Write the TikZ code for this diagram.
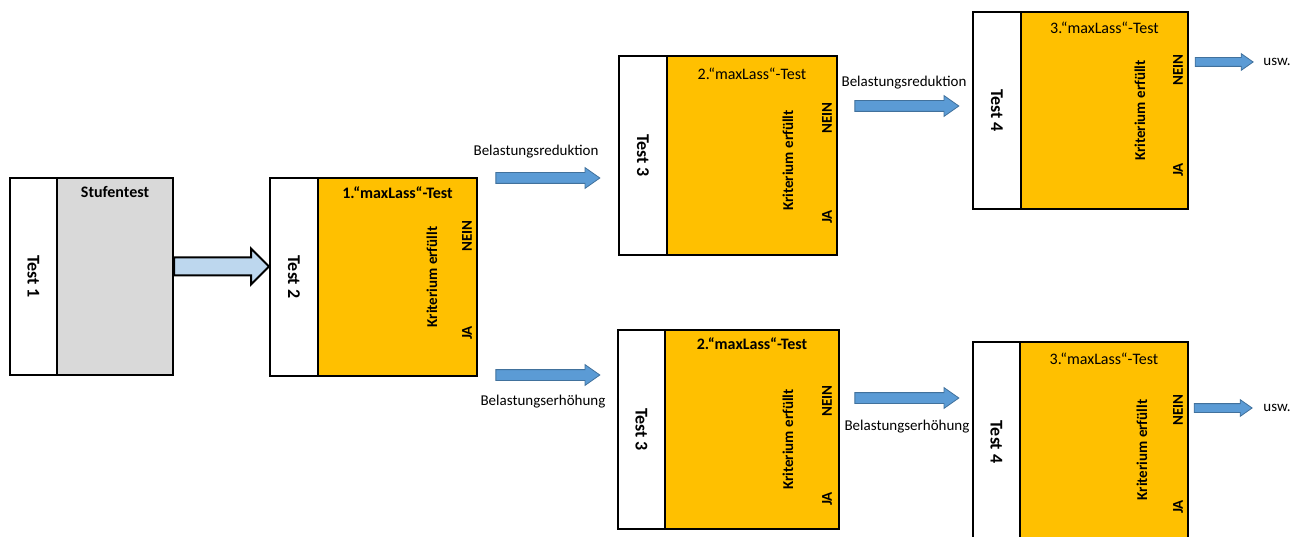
\documentclass[tikz,border=0pt]{standalone}
\usepackage{fontspec}
\setmainfont{Carlito}
\usetikzlibrary{positioning,shapes.arrows}

\definecolor{maxorange}{HTML}{FFC000}
\definecolor{stufengray}{HTML}{D9D9D9}
\definecolor{arrowblue}{HTML}{5B9BD5}
\definecolor{arrowedge}{HTML}{41719C}
\definecolor{paleblue}{HTML}{BDD7EE}

\begin{document}
\begin{tikzpicture}[x=1pt,y=-1pt,
    strip/.style ={draw, line width=2.4pt, fill=white, outer sep=0pt, inner sep=0pt,
                   minimum width=48pt, minimum height=198pt},
    testbox/.style ={draw, line width=2.4pt, fill=maxorange, outer sep=0pt, inner sep=0pt,
                     minimum width=168pt, minimum height=198pt},
    stripname/.style ={rotate=-90, font=\fontsize{18}{20}\selectfont\bfseries, inner sep=0pt},
    title/.style ={font=\fontsize{16}{18}\selectfont, inner sep=0pt},
    boldtitle/.style ={font=\fontsize{16}{18}\selectfont\bfseries, inner sep=0pt},
    crit/.style ={rotate=90, font=\fontsize{15}{17}\selectfont\bfseries, inner sep=0pt},
    note/.style ={font=\fontsize{15}{17}\selectfont, inner sep=0pt},
    bluearrow/.style ={single arrow, draw=arrowedge, fill=arrowblue, line width=0.8pt,
                       inner xsep=0pt, inner ysep=5pt, text height=0pt, text depth=0pt,
                       single arrow head extend=5pt, single arrow tip angle=70,
                       minimum height=104pt},
    smallarrow/.style ={bluearrow, inner ysep=4pt, single arrow head extend=4pt,
                        minimum height=58pt},
    bigarrow/.style ={single arrow, draw=black, fill=paleblue, line width=2pt,
                      inner xsep=0pt, inner ysep=8pt, text height=0pt, text depth=0pt,
                      single arrow head extend=9pt, single arrow tip angle=90,
                      minimum height=95pt}]
   \useasboundingbox (0,0) rectangle (1304,537);
   \clip (0,0) rectangle (1304,537);

   % Stufentest
   \node[strip, minimum width=47pt, minimum height=197pt] (t1) at (33.5,276.5) {};
   \node[strip, fill=stufengray, right=0pt of t1, minimum width=116pt, minimum height=197pt] (stufen) {};
   \node[stripname] (n1) at (t1.center) {Test 1};
   \node[boldtitle] (h1) at ([yshift=-14pt]stufen.north) {Stufentest};
   \node[bigarrow, anchor=tail] (a1) at ([yshift=10pt]stufen.east) {};

   % 1. maxLass
   \node[strip] (t2) at (294,277) {};
   \node[testbox, right=0pt of t2, minimum width=159pt] (o2) {};
   \node[stripname] (n2) at (t2.center) {Test 2};
   \node[boldtitle] (h2) at ([yshift=-15pt]o2.north) {1.“maxLass“-Test};
   \node[crit] (k2) at ([xshift=-45pt]o2.east) {Kriterium erfüllt};
   \node[crit] (no2) at ([xshift=-10pt,yshift=-58pt]o2.north east) {NEIN};
   \node[crit] (ja2) at ([xshift=-10pt,yshift=-155pt]o2.north east) {JA};

   \node[bluearrow] (r2) at (544,178) {};
   \node[note] (lr2) at (536,152) {Belastungsreduktion};
   \node[bluearrow] (e2) at (544,375) {};
   \node[note] (le2) at (543,402) {Belastungserhöhung};

   % 2. maxLass, reduction
   \node[strip, minimum height=199pt] (t3r) at (643,155.5) {};
   \node[testbox, right=0pt of t3r, minimum width=170pt, minimum height=199pt] (o3r) {};
   \node[stripname] (n3r) at (t3r.center) {Test 3};
   \node[title] (h3r) at ([yshift=-18pt]o3r.north) {2.“maxLass“-Test};
   \node[crit] (k3r) at ([xshift=-49pt,yshift=-5pt]o3r.east) {Kriterium erfüllt};
   \node[crit] (no3r) at ([xshift=-10pt,yshift=-62pt]o3r.north east) {NEIN};
   \node[crit] (ja3r) at ([xshift=-10pt,yshift=-161pt]o3r.north east) {JA};

   \node[bluearrow] (r3) at (903,106) {};
   \node[note] (lr3) at (904,83) {Belastungsreduktion};

   % 3. maxLass, reduction
   \node[strip, minimum height=197pt] (t4r) at (997,110.5) {};
   \node[testbox, right=0pt of t4r, minimum width=167pt, minimum height=197pt] (o4r) {};
   \node[stripname] (n4r) at (t4r.center) {Test 4};
   \node[title] (h4r) at ([yshift=-16pt]o4r.north) {3.“maxLass“-Test};
   \node[crit] (k4r) at ([xshift=-48pt]o4r.east) {Kriterium erfüllt};
   \node[crit] (no4r) at ([xshift=-10pt,yshift=-58pt]o4r.north east) {NEIN};
   \node[crit] (ja4r) at ([xshift=-10pt,yshift=-158pt]o4r.north east) {JA};

   \node[smallarrow] (u4r) at (1221,62) {};
   \node[note] (w4r) at (1277,62) {usw.};

   % 2. maxLass, increase
   \node[strip, minimum width=47pt, minimum height=199pt] (t3e) at (641.5,429.5) {};
   \node[testbox, right=0pt of t3e, minimum width=174pt, minimum height=199pt] (o3e) {};
   \node[stripname] (n3e) at (t3e.center) {Test 3};
   \node[boldtitle] (h3e) at ([yshift=-14pt]o3e.north) {2.“maxLass“-Test};
   \node[crit] (k3e) at ([xshift=-51pt,yshift=-10pt]o3e.east) {Kriterium erfüllt};
   \node[crit] (no3e) at ([xshift=-12pt,yshift=-71pt]o3e.north east) {NEIN};
   \node[crit] (ja3e) at ([xshift=-12pt,yshift=-169pt]o3e.north east) {JA};

   \node[bluearrow] (e3) at (903,398) {};
   \node[note] (le3) at (907,427) {Belastungserhöhung};

   % 3. maxLass, increase
   \node[strip, minimum width=47pt, minimum height=200pt] (t4e) at (996.5,442) {};
   \node[testbox, right=0pt of t4e, minimum width=168pt, minimum height=200pt] (o4e) {};
   \node[stripname] (n4e) at (t4e.center) {Test 4};
   \node[title] (h4e) at ([yshift=-17pt]o4e.north) {3.“maxLass“-Test};
   \node[crit] (k4e) at ([xshift=-46pt,yshift=-8pt]o4e.east) {Kriterium erfüllt};
   \node[crit] (no4e) at ([xshift=-10pt,yshift=-68pt]o4e.north east) {NEIN};
   \node[crit] (ja4e) at ([xshift=-10pt,yshift=-165pt]o4e.north east) {JA};

   \node[smallarrow] (u4e) at (1220,408) {};
   \node[note] (w4e) at (1277,408) {usw.};
\end{tikzpicture}
\end{document}
